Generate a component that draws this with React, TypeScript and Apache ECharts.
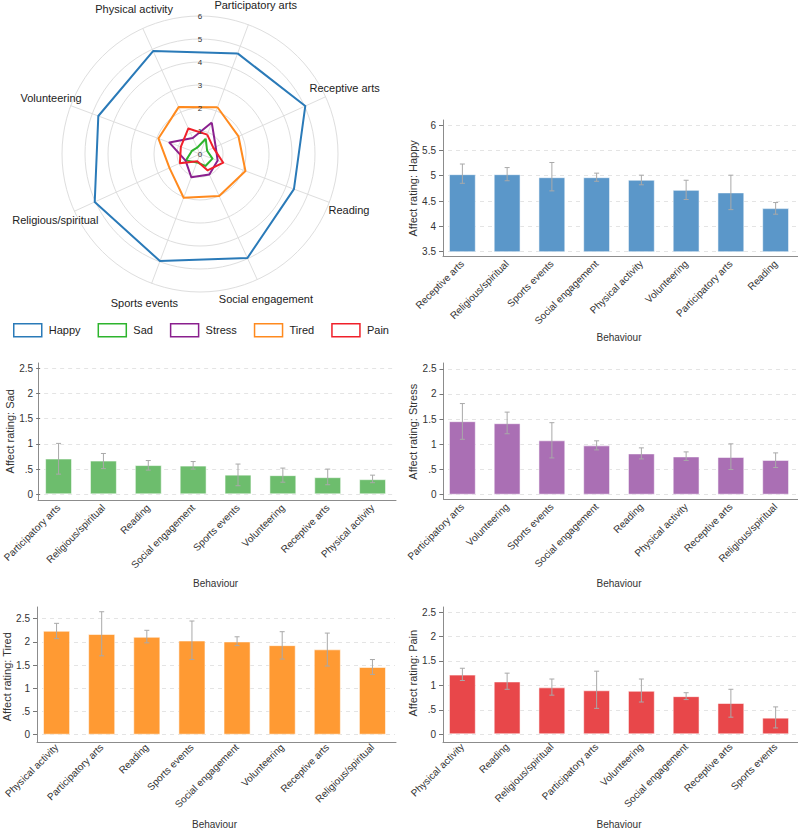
import React, { useEffect, useRef } from 'react';
import * as echarts from 'echarts';

const FONT = 'Arial, "Liberation Sans", Helvetica, sans-serif';

// ---------- Data ----------
const radarOrder = [
  'Participatory arts', 'Physical activity', 'Volunteering', 'Religious/spiritual',
  'Sports events', 'Social engagement', 'Reading', 'Receptive arts',
];
const radarTicks = [0, 1, 2, 3, 4, 5, 6];

const happyCats = ['Receptive arts', 'Religious/spiritual', 'Sports events', 'Social engagement', 'Physical activity', 'Volunteering', 'Participatory arts', 'Reading'];
const happyMean = [5.03, 5.03, 4.97, 4.97, 4.92, 4.72, 4.67, 4.36];
const happyLow = [4.85, 4.90, 4.70, 4.89, 4.82, 4.53, 4.33, 4.24];
const happyHigh = [5.23, 5.16, 5.26, 5.05, 5.01, 4.91, 5.01, 4.47];

const sadCats = ['Participatory arts', 'Religious/spiritual', 'Reading', 'Social engagement', 'Sports events', 'Volunteering', 'Receptive arts', 'Physical activity'];
const sadMean = [0.71, 0.67, 0.58, 0.57, 0.39, 0.38, 0.34, 0.30];
const sadLow = [0.40, 0.51, 0.48, 0.50, 0.17, 0.24, 0.19, 0.23];
const sadHigh = [1.01, 0.81, 0.67, 0.65, 0.60, 0.52, 0.50, 0.38];

const stressCats = ['Participatory arts', 'Volunteering', 'Sports events', 'Social engagement', 'Reading', 'Physical activity', 'Receptive arts', 'Religious/spiritual'];
const stressMean = [1.46, 1.42, 1.08, 0.98, 0.82, 0.76, 0.75, 0.69];
const stressLow = [1.10, 1.21, 0.73, 0.89, 0.71, 0.68, 0.50, 0.54];
const stressHigh = [1.81, 1.64, 1.43, 1.07, 0.93, 0.85, 1.01, 0.83];

const tiredCats = ['Physical activity', 'Participatory arts', 'Reading', 'Sports events', 'Social engagement', 'Volunteering', 'Receptive arts', 'Religious/spiritual'];
const tiredMean = [2.24, 2.17, 2.11, 2.03, 2.01, 1.93, 1.84, 1.46];
const tiredLow = [2.07, 1.70, 1.98, 1.62, 1.92, 1.63, 1.48, 1.30];
const tiredHigh = [2.40, 2.65, 2.25, 2.45, 2.11, 2.22, 2.19, 1.62];

const painCats = ['Physical activity', 'Reading', 'Religious/spiritual', 'Participatory arts', 'Volunteering', 'Social engagement', 'Receptive arts', 'Sports events'];
const painMean = [1.22, 1.08, 0.96, 0.90, 0.89, 0.78, 0.64, 0.34];
const painLow = [1.10, 0.92, 0.80, 0.53, 0.66, 0.71, 0.35, 0.13];
const painHigh = [1.35, 1.25, 1.13, 1.29, 1.13, 0.85, 0.92, 0.56];

const affectNames = ['Happy', 'Sad', 'Stress', 'Tired', 'Pain'];

// ---------- Styles / layout ----------
const radarColors = ['#2a7ab8', '#2db42d', '#8a1f8e', '#ff8a1e', '#f0202a'];
const barColors = ['#5b97c9', '#6dbd6d', '#aa6fb4', '#ff9a33', '#e8474a'];

const affects = [
  { name: 'Happy', cats: happyCats, mean: happyMean, low: happyLow, high: happyHigh, min: 3.5, max: 6 },
  { name: 'Sad', cats: sadCats, mean: sadMean, low: sadLow, high: sadHigh, min: 0, max: 2.5 },
  { name: 'Stress', cats: stressCats, mean: stressMean, low: stressLow, high: stressHigh, min: 0, max: 2.5 },
  { name: 'Tired', cats: tiredCats, mean: tiredMean, low: tiredLow, high: tiredHigh, min: 0, max: 2.5 },
  { name: 'Pain', cats: painCats, mean: painMean, low: painLow, high: painHigh, min: 0, max: 2.5 },
];

// main grid (tick range) and frame (axis lines) for each bar chart
const layouts = [
  { g: { left: 440, top: 125, width: 358, height: 126.7 }, f: { left: 443, top: 120, right: 798, bottom: 256 }, nameY: 332 },
  { g: { left: 34, top: 368.3, width: 361, height: 126 }, f: { left: 38, top: 363, right: 396, bottom: 500 }, nameY: 578 },
  { g: { left: 440, top: 368.8, width: 358, height: 125.9 }, f: { left: 443.5, top: 363, right: 798, bottom: 499 }, nameY: 578 },
  { g: { left: 34, top: 618.7, width: 361, height: 119 }, f: { left: 37, top: 607, right: 396, bottom: 742.5 }, nameY: 822 },
  { g: { left: 440, top: 612, width: 358, height: 125.3 }, f: { left: 443, top: 607, right: 798, bottom: 742 }, nameY: 822 },
];

const fmt = (v: number) => String(v).replace(/^0\./, '.');

function buildOption() {
  const grid: any[] = [];
  const xAxis: any[] = [];
  const yAxis: any[] = [];
  const series: any[] = [];

  // radar series
  series.push({
    type: 'radar',
    radarIndex: 0,
    symbol: 'none',
    silent: true,
    data: affects.map((a, i) => ({
      name: a.name,
      value: radarOrder.map((b) => a.mean[a.cats.indexOf(b)]),
      lineStyle: { color: radarColors[i], width: 2 },
      itemStyle: { color: radarColors[i] },
    })),
  });

  affects.forEach((a, i) => {
    const L = layouts[i];
    const gBottom = L.g.top + L.g.height;
    const gi = grid.length;
    grid.push({ ...L.g });
    grid.push({ left: L.f.left, top: L.f.top, width: L.f.right - L.f.left, height: L.f.bottom - L.f.top });
    const axisIdx = xAxis.length;

    xAxis.push({
      gridIndex: gi,
      type: 'category',
      data: a.cats,
      offset: L.f.bottom - gBottom,
      axisLine: { show: false },
      axisTick: { show: false },
      axisLabel: { rotate: 45, interval: 0, fontSize: 10, color: '#333', margin: 6, fontFamily: FONT },
      name: 'Behaviour',
      nameLocation: 'middle',
      nameGap: L.nameY - L.f.bottom,
      nameTextStyle: { fontSize: 10, color: '#333', fontFamily: FONT },
    });
    xAxis.push({
      gridIndex: gi + 1, type: 'value', min: 0, max: 1,
      axisLine: { show: true, onZero: false, lineStyle: { color: '#8c8c8c', width: 1 } },
      axisTick: { show: false }, axisLabel: { show: false }, splitLine: { show: false },
    });
    yAxis.push({
      gridIndex: gi,
      type: 'value',
      min: a.min, max: a.max, interval: 0.5,
      offset: L.g.left - L.f.left,
      axisLine: { show: false },
      axisTick: { show: true, length: 4, lineStyle: { color: '#777' } },
      axisLabel: { fontSize: 10, color: '#333', margin: 7, fontFamily: FONT, formatter: fmt },
      splitLine: { show: true, lineStyle: { type: [4, 4], color: '#e4e4e4' } },
      name: 'Affect rating: ' + a.name,
      nameLocation: 'middle',
      nameGap: 22,
      nameTextStyle: { fontSize: 11, color: '#333', fontFamily: FONT },
    });
    yAxis.push({
      gridIndex: gi + 1, type: 'value', min: 0, max: 1,
      axisLine: { show: true, onZero: false, lineStyle: { color: '#8c8c8c', width: 1 } },
      axisTick: { show: false }, axisLabel: { show: false }, splitLine: { show: false },
    });

    series.push({
      type: 'bar',
      xAxisIndex: axisIdx,
      yAxisIndex: axisIdx,
      data: a.mean,
      barWidth: '60%',
      silent: true,
      itemStyle: { color: barColors[i], borderColor: 'rgba(255,255,255,0.55)', borderWidth: 1 },
    });
    series.push({
      type: 'custom',
      xAxisIndex: axisIdx,
      yAxisIndex: axisIdx,
      silent: true,
      z: 10,
      clip: false,
      encode: { x: 0, y: [1, 2] },
      data: a.cats.map((_, k) => [k, a.low[k], a.high[k]]),
      renderItem: (params: any, api: any) => {
        const x = api.value(0);
        const lo = api.coord([x, api.value(1)]);
        const hi = api.coord([x, api.value(2)]);
        const w = 2.5;
        const st = { stroke: '#a9a9a9', lineWidth: 1 };
        return {
          type: 'group',
          children: [
            { type: 'line', shape: { x1: lo[0], y1: lo[1], x2: hi[0], y2: hi[1] }, style: st },
            { type: 'line', shape: { x1: hi[0] - w, y1: hi[1], x2: hi[0] + w, y2: hi[1] }, style: st },
            { type: 'line', shape: { x1: lo[0] - w, y1: lo[1], x2: lo[0] + w, y2: lo[1] }, style: st },
          ],
        };
      },
    });
  });

  return {
    animation: false,
    backgroundColor: '#ffffff',
    textStyle: { fontFamily: FONT },
    legend: {
      left: 13,
      top: 323,
      padding: 0,
      itemWidth: 28,
      itemHeight: 13,
      itemGap: 17,
      icon: 'rect',
      selectedMode: false,
      textStyle: { fontSize: 11, color: '#222', fontFamily: FONT, padding: [0, 0, 0, 2] },
      data: affectNames.map((n, i) => ({
        name: n,
        icon: 'rect',
        itemStyle: { color: '#ffffff', borderColor: radarColors[i], borderWidth: 1.5 },
        lineStyle: { opacity: 0 },
      })),
    },
    radar: {
      center: [200, 154],
      radius: 138,
      startAngle: 69.5,
      shape: 'circle',
      splitNumber: 6,
      indicator: radarOrder.map((n) => ({ name: n, min: 0, max: 6 })),
      nameGap: 21,
      axisName: { color: '#222', fontSize: 11, fontFamily: FONT, align: 'center', verticalAlign: 'middle' },
      splitLine: { lineStyle: { color: '#dedede', width: 1 } },
      splitArea: { show: false },
      axisLine: { lineStyle: { color: '#dedede', width: 1 } },
      axisTick: { show: false },
      axisLabel: { show: false },
    },
    polar: { center: [200, 154], radius: 138 },
    angleAxis: { show: false, startAngle: 90, min: 0, max: 360 },
    radiusAxis: {
      min: radarTicks[0],
      max: radarTicks[radarTicks.length - 1],
      interval: 1,
      axisLine: { show: false },
      axisTick: { show: false },
      splitLine: { show: false },
      z: 20,
      axisLabel: {
        show: true, fontSize: 8, color: '#333', fontFamily: FONT, margin: 0,
        align: 'center', verticalAlign: 'middle', showMinLabel: true, showMaxLabel: true,
      },
    },
    grid,
    xAxis,
    yAxis,
    series,
  };
}

export default function App() {
  const ref = useRef<HTMLDivElement>(null);
  useEffect(() => {
    if (!ref.current) return;
    const chart = echarts.init(ref.current, undefined, { renderer: 'svg' });
    chart.setOption(buildOption() as any);
    return () => chart.dispose();
  }, []);
  return (
    <div
      ref={ref}
      style={{ position: 'absolute', left: 0, top: 0, width: 798, height: 830, background: '#fff' }}
    />
  );
}
